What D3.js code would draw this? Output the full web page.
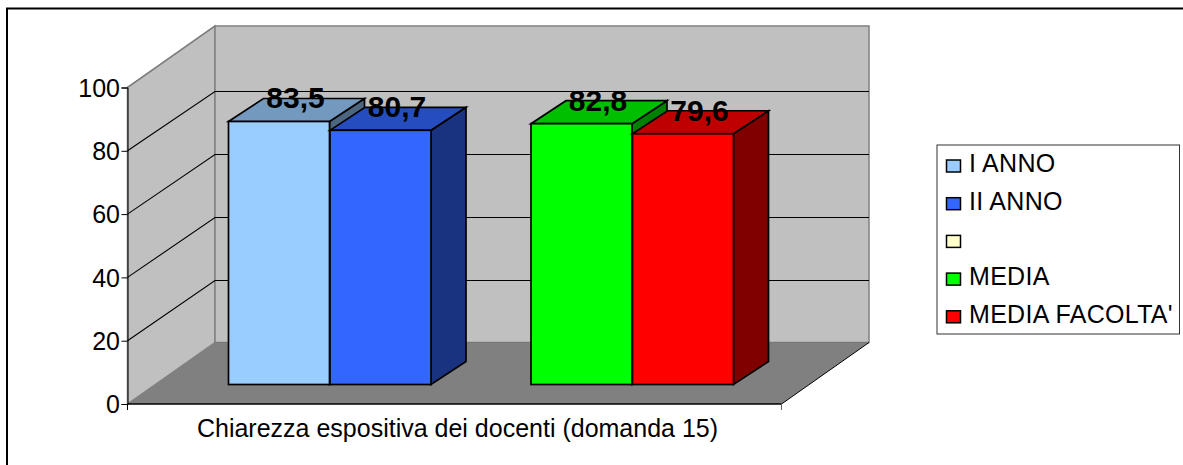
<!DOCTYPE html>
<html><head><meta charset="utf-8">
<script src="https://cdn.jsdelivr.net/npm/d3@7/dist/d3.min.js"></script>
<style>html,body{margin:0;padding:0;background:#fff}svg{display:block}text{font-family:"Liberation Sans",Arial,sans-serif;fill:#000}</style>
</head><body><svg id="c" width="1183" height="465"></svg>
<script>
const categoryLabel = "Chiarezza espositiva dei docenti (domanda 15)";
const seriesNames = ["I ANNO", "II ANNO", "", "MEDIA", "MEDIA FACOLTA'"];
const seriesValues = [83.5, 80.7, null, 82.8, 79.6];
const valueLabels = ["83,5", "80,7", "", "82,8", "79,6"];
const frontColors = ["#99ccff", "#3366ff", "#ffffcc", "#00ff00", "#ff0000"];
const topColors = ["#7399bf", "#264dbf", "#bfbf99", "#00bf00", "#bf0000"];
const sideColors = ["#4d6680", "#1a3380", "#80806a", "#008000", "#800000"];
const yTicks = [0, 20, 40, 60, 80, 100];

const svg = d3.select("#c");
const dx = 87.5, dy = -61.5, barDx = 35, barDy = -23;
const y = d3.scaleLinear().domain([0, 100]).range([404, 87.5]);
const yBack = d3.scaleLinear().domain([0, 100]).range([343.5, 27.5]);
const xOuter = d3.scaleLinear().domain([0, 1]).range([127.5, 781.5]);
const barY = d3.scaleLinear().domain([0, 100]).range([384.5, 69.5]);
const poly = (pts, fill, stroke, sw) => svg.append("path")
  .attr("d", d3.line()(pts) + "Z").attr("fill", fill).attr("stroke", stroke || "none")
  .attr("stroke-width", sw || 0).attr("stroke-linejoin", "miter");

// frame
svg.append("rect").attr("x", 7).attr("y", 8.5).attr("width", 1400).attr("height", 600)
  .attr("fill", "#fff").attr("stroke", "#000").attr("stroke-width", 2);

const x0 = xOuter(0), x1 = xOuter(1), y0 = y(0), yT = y(100);
// walls and floor
poly([[x0, y0], [x0, yT], [x0 + dx, yT + dy], [x0 + dx, y0 + dy]], "#c0c0c0", "#808080", 1.5);
poly([[x0 + dx, y0 + dy], [x0 + dx, yT + dy], [x1 + dx, yT + dy], [x1 + dx, y0 + dy]], "#c0c0c0", "#808080", 1.5);
poly([[x0, y0], [x0 + dx, y0 + dy], [x1 + dx, y0 + dy], [x1, y0]], "#808080");
svg.append("line").attr("x1", x0 + dx).attr("x2", x1 + dx).attr("y1", y0 + dy).attr("y2", y0 + dy).attr("stroke", "#777");
svg.append("line").attr("x1", x1).attr("x2", x1 + dx).attr("y1", y0).attr("y2", y0 + dy).attr("stroke", "#000");

// gridlines
yTicks.filter(t => t > 0).forEach(t => {
  if (t === 100) {
    svg.append("line").attr("x1", x0).attr("y1", y(t)).attr("x2", x0 + dx).attr("y2", y(t) + dy)
      .attr("stroke", "#808080").attr("stroke-width", 1.5);
  } else {
    const by = Math.round(yBack(t)) + 0.5;
    svg.append("path").attr("fill", "none").attr("stroke", "#000").attr("stroke-width", 1.1)
      .attr("d", d3.line()([[x0, y(t)], [x0 + dx, by], [x1 + dx, by]]));
  }
});

// axes
const axisY = d3.axisLeft(y).tickValues(yTicks).tickSize(6).tickPadding(1.5);
const gy = svg.append("g").attr("transform", `translate(${x0},0)`).call(axisY);
gy.selectAll("text").style("font-size", "25px").attr("dy", "0.35em");
gy.selectAll("path,line").attr("stroke", "#000");
svg.append("line").attr("x1", x0).attr("x2", x1).attr("y1", y0).attr("y2", y0).attr("stroke", "#000").attr("stroke-width", 1.5);
svg.append("line").attr("x1", x0).attr("x2", x0).attr("y1", y0).attr("y2", y0 + 6).attr("stroke", "#000");
svg.append("line").attr("x1", x1).attr("x2", x1).attr("y1", y0).attr("y2", y0 + 6).attr("stroke", "#666");
svg.append("text").attr("x", 457.5).attr("y", 436.5).attr("text-anchor", "middle").style("font-size", "25px").text(categoryLabel);

// bars
const barIdx = [0, 1, 3, 4];
const visualX = [228.5, 330, 531, 632.5];
const bw = 101;
const stroke = "#000";
barIdx.forEach((s, i) => {
  const v = seriesValues[s], l = visualX[i], r = l + bw, t = barY(v), b = barY(0);
  poly([[r, b], [r, t], [r + barDx, t + barDy], [r + barDx, b + barDy]], sideColors[s], stroke, 1.7);
  poly([[l, t], [r, t], [r + barDx, t + barDy], [l + barDx, t + barDy]], topColors[s], stroke, 1.7);
  svg.append("rect").attr("x", l).attr("y", t).attr("width", bw).attr("height", b - t)
    .attr("fill", frontColors[s]).attr("stroke", stroke).attr("stroke-width", 1.7);
});
barIdx.forEach((s, i) => {
  const v = seriesValues[s], l = visualX[i], t = barY(v);
  svg.append("text").attr("x", l + 67).attr("y", t - 13).attr("text-anchor", "middle")
    .style("font-size", "30px").style("font-weight", "bold").text(valueLabels[s]);
});

// legend
svg.append("rect").attr("x", 937).attr("y", 145).attr("width", 242.5).attr("height", 189)
  .attr("fill", "#fff").attr("stroke", "#333").attr("stroke-width", 1);
seriesNames.forEach((n, i) => {
  const cy = 166 + i * 37.7;
  svg.append("rect").attr("x", 946.5).attr("y", cy - 6).attr("width", 14).attr("height", 12)
    .attr("fill", frontColors[i]).attr("stroke", "#000").attr("stroke-width", 1.5);
  svg.append("text").attr("x", 969).attr("y", cy + 6).style("font-size", "25px").style("letter-spacing", "0.3px").text(n);
});
</script></body></html>
